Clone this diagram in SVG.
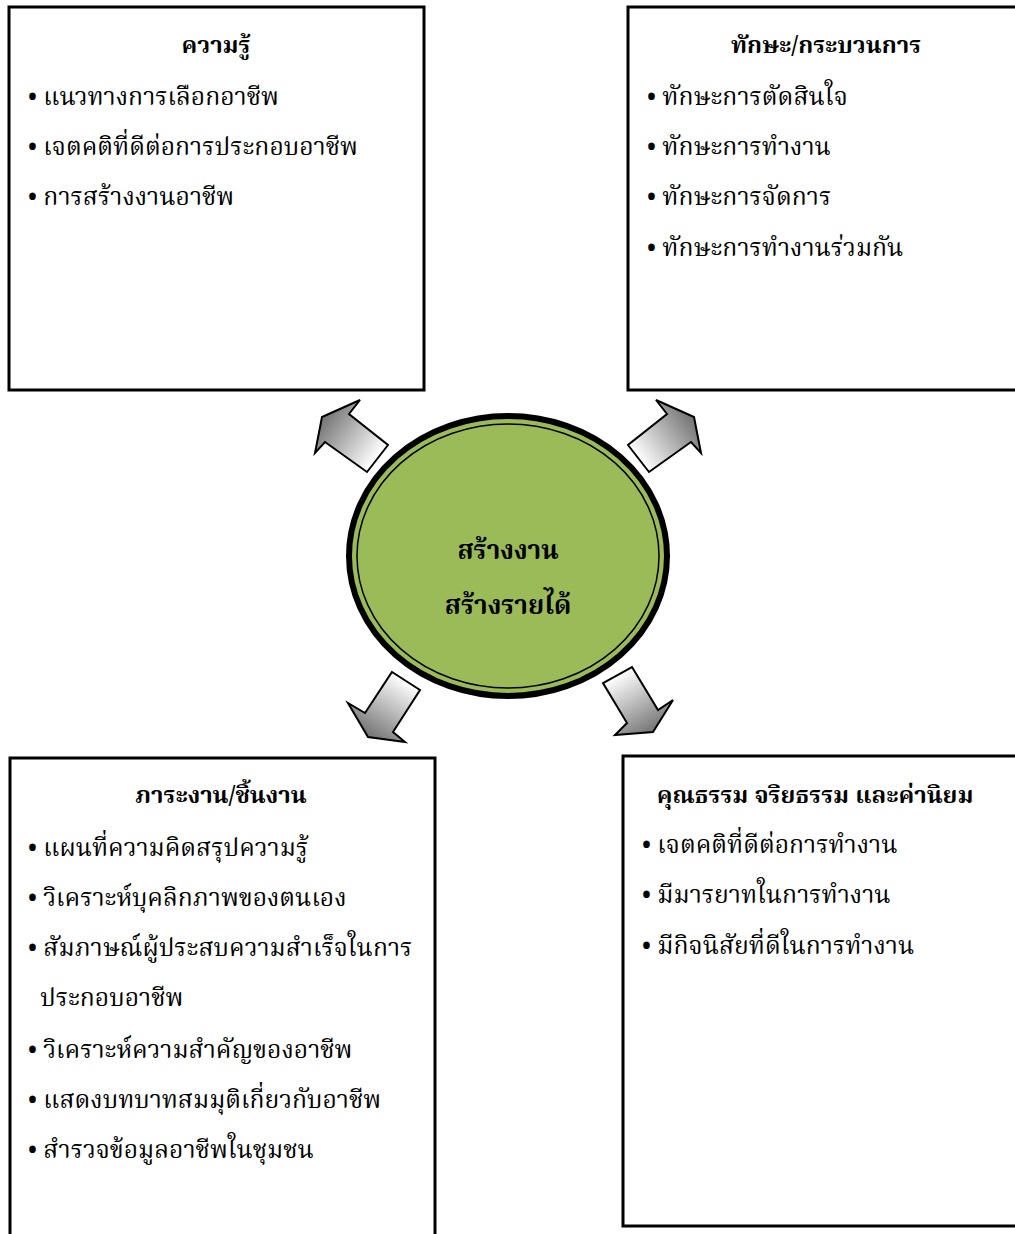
<svg xmlns="http://www.w3.org/2000/svg" width="1015" height="1234" viewBox="0 0 1015 1234">
<style>
.box{fill:#fff;stroke:#000;stroke-width:3}
.t{font-family:"Noto Serif Thai","Noto Sans Thai","Liberation Serif","DejaVu Serif",serif;fill:#000}
.h{font-size:23.8px;font-weight:bold;text-anchor:middle}
.b{font-size:24.7px}
.c{font-size:26px;font-weight:bold;text-anchor:middle}
.arr{stroke:#000;stroke-width:2;stroke-linejoin:miter}
</style>
<defs>
<linearGradient id="gUL" gradientUnits="userSpaceOnUse" x1="377" y1="458" x2="325" y2="420"><stop offset="0" stop-color="#fff"/><stop offset="1" stop-color="#7a7a7a"/></linearGradient>
<linearGradient id="gUR" gradientUnits="userSpaceOnUse" x1="638" y1="458" x2="690" y2="420"><stop offset="0" stop-color="#fff"/><stop offset="1" stop-color="#7a7a7a"/></linearGradient>
<linearGradient id="gLL" gradientUnits="userSpaceOnUse" x1="406" y1="681" x2="372" y2="735"><stop offset="0" stop-color="#fff"/><stop offset="1" stop-color="#7a7a7a"/></linearGradient>
<linearGradient id="gLR" gradientUnits="userSpaceOnUse" x1="617" y1="675" x2="650" y2="730"><stop offset="0" stop-color="#fff"/><stop offset="1" stop-color="#7a7a7a"/></linearGradient>
</defs>
<g id="connectors">
<polygon class="arr" fill="url(#gUL)" points="388,445 367,472 325,442 315,453 322,417 360,400 349,414"/>
<polygon class="arr" fill="url(#gUR)" points="628,445 649,472 691,442 701,453 694,417 656,400 667,414"/>
<polygon class="arr" fill="url(#gLL)" points="392,672 420,690 393,732 405,742 368,737 348,703 365,713"/>
<polygon class="arr" fill="url(#gLR)" points="632,667 658,710 673,700 653,732 615,735 627,723 603,683"/>
</g>
<g id="node-knowledge">
<rect class="box" x="9" y="7" width="415" height="383"/>
<text class="t h" x="216" y="53">ความรู้</text>
<text class="t b" x="28" y="105">• แนวทางการเลือกอาชีพ</text>
<text class="t b" x="28" y="155">• เจตคติที่ดีต่อการประกอบอาชีพ</text>
<text class="t b" x="28" y="205">• การสร้างงานอาชีพ</text>
</g>
<g id="node-skills">
<rect class="box" x="628" y="7" width="390" height="383"/>
<text class="t h" x="826" y="53">ทักษะ/กระบวนการ</text>
<text class="t b" x="647" y="105">• ทักษะการตัดสินใจ</text>
<text class="t b" x="647" y="155">• ทักษะการทำงาน</text>
<text class="t b" x="647" y="205">• ทักษะการจัดการ</text>
<text class="t b" x="647" y="256">• ทักษะการทำงานร่วมกัน</text>
</g>
<g id="node-center">
<ellipse cx="508" cy="556" rx="159" ry="140" fill="#9bbb59" stroke="#000" stroke-width="6"/>
<ellipse cx="508" cy="556" rx="151" ry="132" fill="none" stroke="#000" stroke-width="1.5"/>
<text class="t c" x="508" y="559">สร้างงาน</text>
<text class="t c" x="508" y="614">สร้างรายได้</text>
</g>
<g id="node-tasks">
<rect class="box" x="10" y="758" width="425" height="490"/>
<text class="t h" x="221" y="803">ภาระงาน/ชิ้นงาน</text>
<text class="t b" x="28" y="856">• แผนที่ความคิดสรุปความรู้</text>
<text class="t b" x="28" y="906">• วิเคราะห์บุคลิกภาพของตนเอง</text>
<text class="t b" x="28" y="956">• สัมภาษณ์ผู้ประสบความสำเร็จในการ</text>
<text class="t b" x="40" y="1006">ประกอบอาชีพ</text>
<text class="t b" x="28" y="1058">• วิเคราะห์ความสำคัญของอาชีพ</text>
<text class="t b" x="28" y="1108">• แสดงบทบาทสมมุติเกี่ยวกับอาชีพ</text>
<text class="t b" x="28" y="1158">• สำรวจข้อมูลอาชีพในชุมชน</text>
</g>
<g id="node-ethics">
<rect class="box" x="623" y="756" width="395" height="470"/>
<text class="t h" x="815" y="803">คุณธรรม จริยธรรม และค่านิยม</text>
<text class="t b" x="642" y="853">• เจตคติที่ดีต่อการทำงาน</text>
<text class="t b" x="642" y="903">• มีมารยาทในการทำงาน</text>
<text class="t b" x="642" y="954">• มีกิจนิสัยที่ดีในการทำงาน</text>
</g>
</svg>
